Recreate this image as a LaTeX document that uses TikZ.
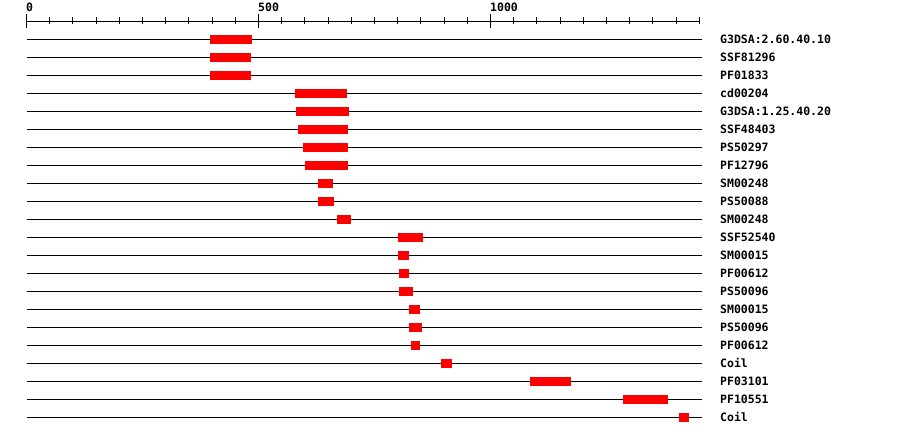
\documentclass[tikz,border=0pt]{standalone}
\usepackage{fontspec}
\setmonofont{DejaVu Sans Mono}
\begin{document}
\begin{tikzpicture}[x=1pt,y=-1pt,
  lab/.style={font=\ttfamily\bfseries\fontsize{11.5}{12}\selectfont, inner sep=0pt, anchor=base west},
  track/.style={line width=1pt, black},
  barbox/.style={fill=red, draw=none}]
\useasboundingbox[fill=white] (0,0) rectangle (900,436);
% axis
\draw[track] (26.5,21.3) coordinate (ax0) -- (700,21.3) coordinate (ax1);
\foreach \k in {0,...,29} {
  \pgfmathsetmacro\xx{26.5+\k*23.2}
  \draw[track] (\xx,17.3) -- (\xx,24.3);
}
\foreach \k/\t in {0/0,10/500,20/1000} {
  \pgfmathsetmacro\xx{26.5+\k*23.2}
  \draw[track] (\xx,14) -- (\xx,28.5);
  \node[lab] (t\k) at (\xx-0.5,12) {\t};
}
% tracks
\foreach [count=\i] \s/\e/\l in {
  210/252/G3DSA:2.60.40.10,
  210/251/SSF81296,
  210/251/PF01833,
  295/347/cd00204,
  296/349/G3DSA:1.25.40.20,
  298/348/SSF48403,
  303/348/PS50297,
  305/348/PF12796,
  318/333/SM00248,
  318/334/PS50088,
  337/351/SM00248,
  398/423/SSF52540,
  398/409/SM00015,
  399/409/PF00612,
  399/413/PS50096,
  409/420/SM00015,
  409/422/PS50096,
  411/420/PF00612,
  441/452/Coil,
  530/571/PF03101,
  623/668/PF10551,
  679/689/Coil} {
  \pgfmathsetmacro\yy{39.3+(\i-1)*18}
  \draw[track] (26.5,\yy) coordinate (s\i) -- (701.5,\yy) coordinate (e\i);
  \fill[barbox] (\s,\yy-4.5) rectangle (\e,\yy+4.5);
  \node[lab] (l\i) at (720,\yy+4) {\l};
}
\end{tikzpicture}
\end{document}
